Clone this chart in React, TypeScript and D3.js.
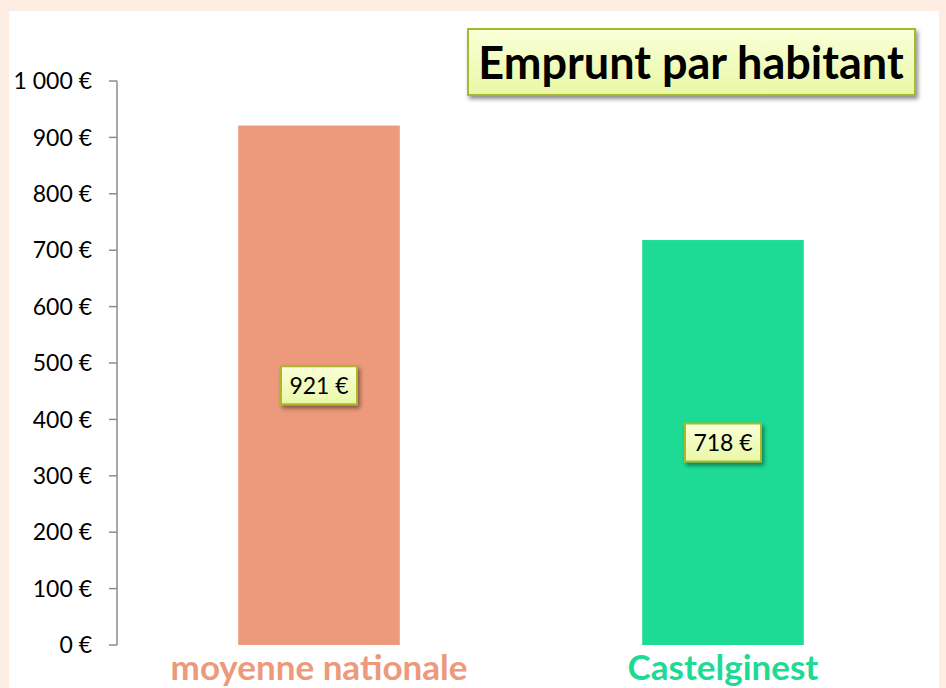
import React from "react";
import * as d3 from "d3";

const categories = ["moyenne nationale", "Castelginest"];
const values = [921, 718];
const colors = ["#EC997C", "#1DDB95"];
const yTicks = [0, 100, 200, 300, 400, 500, 600, 700, 800, 900, 1000];
const title = "Emprunt par habitant";

const W = 946;
const H = 688;
const FONT = "Lato, 'Open Sans', sans-serif";

const fmt = (v: number) => d3.format(",")(v).replace(/,/g, "\u00a0") + " €";

export default function App() {
  const x = d3.scaleBand<string>().domain(categories).range([117, 925]).paddingInner(0.6).paddingOuter(0.3);
  const y = d3.scaleLinear().domain([0, 1000]).range([645, 81]);
  return (
    <svg width={W} height={H} style={{ position: "absolute", left: 0, top: 0 }} fontFamily={FONT}>
      <defs>
        <linearGradient id="yg" x1="0" y1="0" x2="0" y2="1">
          <stop offset="0" stopColor="#FAFFD8" />
          <stop offset="1" stopColor="#E9F8A6" />
        </linearGradient>
        <filter id="sh" x="-20%" y="-20%" width="150%" height="160%">
          <feDropShadow dx="2" dy="3" stdDeviation="2" floodColor="#000" floodOpacity="0.45" />
        </filter>
      </defs>
      <rect x={0} y={0} width={W} height={H} fill="#FDEDE3" />
      <rect x={9} y={11} width={930} height={H - 11} fill="#FFFFFF" />
      {/* axis */}
      <line x1={117} x2={117} y1={y(1000)} y2={y(0)} stroke="#8C8C8C" strokeWidth={1.5} />
      {yTicks.map((t) => (
        <g key={t}>
          <line x1={109} x2={117} y1={y(t)} y2={y(t)} stroke="#8C8C8C" strokeWidth={1.5} />
          <text x={92} y={y(t)} dy="0.36em" textAnchor="end" fontSize={23} fill="#000">
            {fmt(t)}
          </text>
        </g>
      ))}
      {categories.map((c, i) => (
        <rect key={c} x={x(c)} y={y(values[i])} width={x.bandwidth()} height={y(0) - y(values[i])} fill={colors[i]} />
      ))}
      {categories.map((c, i) => {
        const cx = (x(c) as number) + x.bandwidth() / 2;
        const cy = y(values[i] / 2);
        return (
          <g key={c + "l"}>
            <rect x={cx - 38} y={cy - 19} width={76} height={38} fill="url(#yg)" stroke="#AAB82E" strokeWidth={2} filter="url(#sh)" />
            <text x={cx} y={cy} dy="0.36em" textAnchor="middle" fontSize={23} fill="#000">
              {fmt(values[i])}
            </text>
          </g>
        );
      })}
      {categories.map((c, i) => (
        <text key={c + "c"} x={(x(c) as number) + x.bandwidth() / 2} y={680} textAnchor="middle" fontSize={35} fontWeight="bold" fill={colors[i]}>
          {c}
        </text>
      ))}
      <rect x={468} y={29} width={447} height={66} fill="url(#yg)" stroke="#AAB82E" strokeWidth={2} filter="url(#sh)" />
      <text x={691} y={63} dy="0.36em" textAnchor="middle" fontSize={45} fontWeight="bold" fill="#000">
        {title}
      </text>
    </svg>
  );
}
